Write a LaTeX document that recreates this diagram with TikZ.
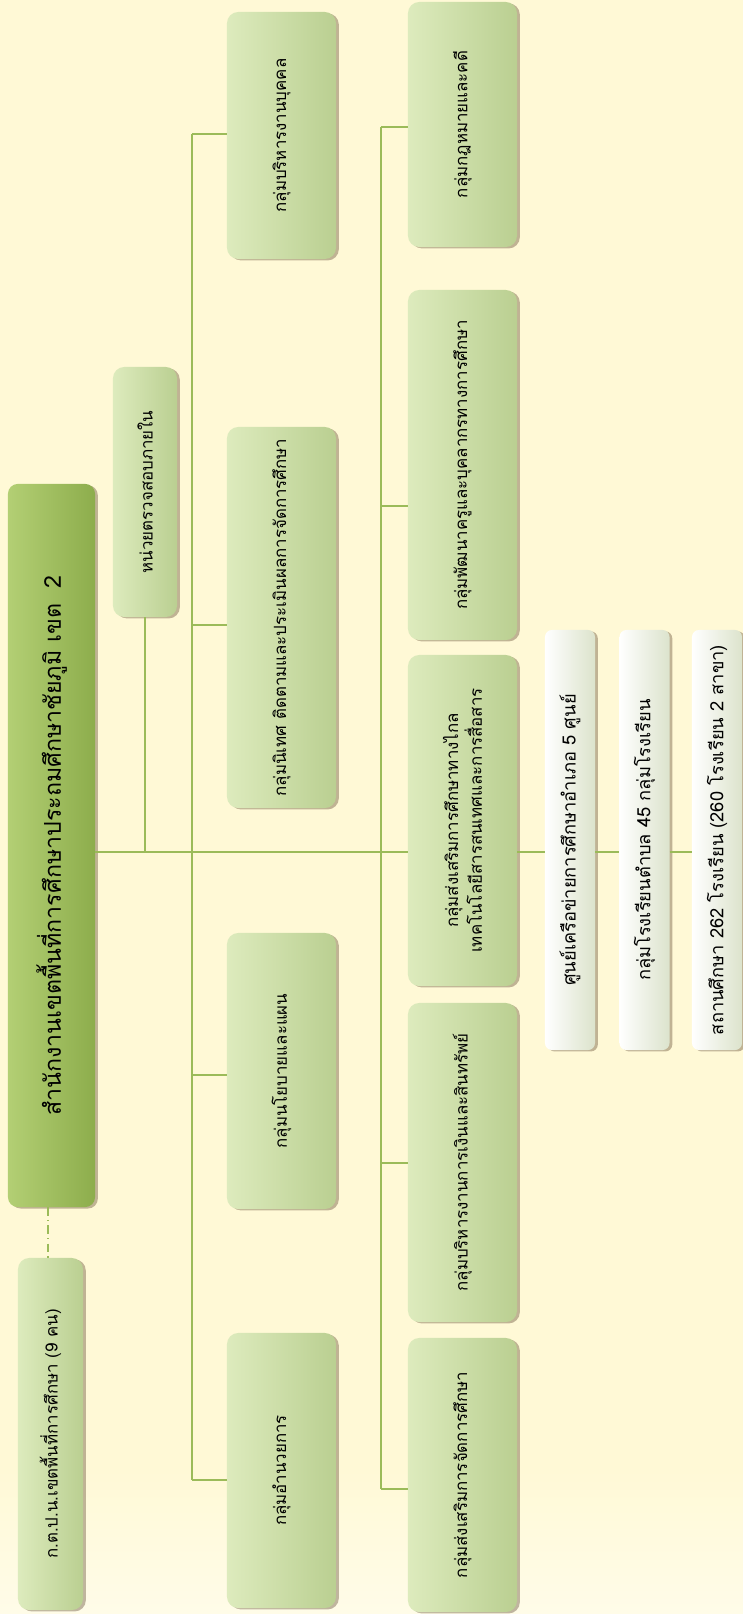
\documentclass[tikz,border=0pt]{standalone}
\usepackage{fontspec}
\setmainfont[Script=Thai]{Loma}
\usetikzlibrary{shadows}

\definecolor{bgc}{HTML}{FFF9D6}
\definecolor{linec}{HTML}{9BBB59}
\definecolor{grpL}{HTML}{DDEBBD}
\definecolor{grpM}{HTML}{C6D99E}
\definecolor{grpD}{HTML}{BACF91}
\definecolor{headL}{HTML}{B3CF74}
\definecolor{headM}{HTML}{9BBB59}
\definecolor{headD}{HTML}{8DAD4C}
\definecolor{netL}{HTML}{FFFFFF}
\definecolor{netD}{HTML}{DCE3CC}

\begin{document}
\begin{tikzpicture}[x=0.025cm, y=-0.025cm,
  box/.style={rotate=90, inner sep=0pt, outer sep=0pt, align=center,
    text=black, drop shadow={shadow xshift=2pt, shadow yshift=-1pt, opacity=0.35, fill=black!60!brown}},
  head/.style={box, rounded corners=7pt, left color=headL, middle color=headM, right color=headD,
    minimum height=2.175cm, font=\fontsize{16.5}{18}\selectfont},
  grp/.style={box, rounded corners=8pt, left color=grpL, middle color=grpM, right color=grpD,
    minimum height=2.725cm, font=\fontsize{12}{17}\selectfont},
  side/.style={grp, minimum height=1.6cm},
  net/.style={box, rounded corners=5pt, left color=netL, right color=netD,
    minimum width=10.5cm, minimum height=1.25cm, font=\fontsize{13}{15}\selectfont},
  link/.style={draw=linec, line width=0.9pt}]

  \useasboundingbox (0,0) rectangle (743,1614);
  \fill[bgc] (0,0) rectangle (743,1614);
  \shade[top color=bgc, bottom color=bgc!55!white] (0,1470) rectangle (743,1614);

  % connectors first, boxes on top
  \coordinate (t1) at (192,134);
  \coordinate (t1b) at (192,1480);
  \coordinate (t2) at (381,127);
  \coordinate (t2b) at (381,1489);
  \coordinate (hub) at (95,852);

  \draw[link] (t1) -- (t1b);
  \draw[link] (t2) -- (t2b);

  \node[head, minimum width=18.075cm] (main) at (51.5,845.5)
    {สำนักงานเขตพื้นที่การศึกษาประถมศึกษาชัยภูมิ เขต~~2};
  \node[side, minimum width=8.8cm, minimum height=1.625cm] (kpn) at (50.5,1434)
    {ก.ต.ป.น.เขตพื้นที่การศึกษา (9 คน)};
  \node[side, minimum width=6.25cm] (audit) at (145,492) {หน่วยตรวจสอบภายใน};

  \draw[linec, line width=0.9pt, dash pattern=on 6pt off 3pt on 1pt off 3pt]
    (main.west -| 48,0) -- (kpn.east -| 48,0);
  \draw[link] (audit.west) -- (audit.west |- hub);

  % column 1
  \node[grp, minimum width=6.175cm] (hr) at (281.5,135.5) {กลุ่มบริหารงานบุคคล};
  \node[grp, minimum width=9.525cm] (supv) at (281.5,617.5)
    {กลุ่มนิเทศ ติดตามและประเมินผลการจัดการศึกษา};
  \node[grp, minimum width=6.9cm] (plan) at (281.5,1071) {กลุ่มนโยบายและแผน};
  \node[grp, minimum width=6.875cm] (admin) at (281.5,1470.5) {กลุ่มอำนวยการ};

  \draw[link] (t1) -- (t1 -| hr.north);
  \draw[link] (192,625) -- (hr.north |- 0,625);
  \draw[link] (192,1075) -- (hr.north |- 0,1075);
  \draw[link] (t1b) -- (t1b -| admin.north);

  % column 2
  \node[grp, minimum width=6.125cm] (law) at (462.5,124.5) {กลุ่มกฎหมายและคดี};
  \node[grp, minimum width=8.75cm] (dev) at (462.5,465)
    {กลุ่มพัฒนาครูและบุคลากรทางการศึกษา};
  \node[grp, minimum width=8.275cm] (ict) at (462.5,820.5)
    {กลุ่มส่งเสริมการศึกษาทางไกล\\เทคโนโลยีสารสนเทศและการสื่อสาร};
  \node[grp, minimum width=7.975cm] (fin) at (462.5,1162.5)
    {กลุ่มบริหารงานการเงินและสินทรัพย์};
  \node[grp, minimum width=6.85cm] (prom) at (462.5,1475)
    {กลุ่มส่งเสริมการจัดการศึกษา};

  \draw[link] (t2) -- (t2 -| law.north);
  \draw[link] (381,506) -- (dev.north |- 0,506);
  \draw[link] (381,1163) -- (fin.north |- 0,1163);
  \draw[link] (t2b) -- (t2b -| prom.north);

  % column 3
  \node[net] (centre) at (570,840) {ศูนย์เครือข่ายการศึกษาอำเภอ 5 ศูนย์};
  \node[net] (cluster) at (644.5,840) {กลุ่มโรงเรียนตำบล 45 กลุ่มโรงเรียน};
  \node[net] (school) at (717,840) {สถานศึกษา 262 โรงเรียน (260 โรงเรียน 2 สาขา)};

  \draw[link] (hub) -- (hub -| ict.north);
  \draw[link] (hub -| ict.south) -- (hub -| centre.north);
  \draw[link] (hub -| centre.south) -- (hub -| cluster.north);
  \draw[link] (hub -| cluster.south) -- (hub -| school.north);
\end{tikzpicture}
\end{document}
